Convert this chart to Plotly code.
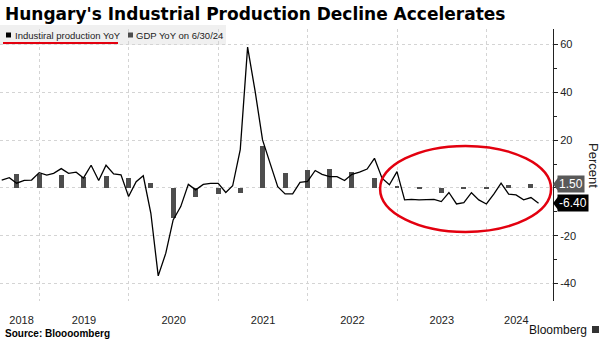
import plotly.graph_objects as go
import pandas as pd

# ---------------- data ----------------
ip_dates = pd.date_range("2018-07-31", periods=73, freq=pd.offsets.MonthEnd())
ip_yoy = [
    3.3, 4.3, 2.0, 3.2, 3.3, 6.4,                                   # 2018 Jul-Dec
    5.4, 6.1, 8.1, 6.1, 6.6, 4.2, 9.5, 3.1, 9.5, 5.9, 5.5, -3.6,    # 2019
    2.6, 5.1, -10.6, -36.8, -27.3, -13.4, -7.8, 1.5, -0.8, 1.5, 1.9, 1.9,  # 2020
    -1.9, 0.9, 16.0, 58.9, 40.3, 20.1, 10.3, 0.5, -2.5, -2.5, 2.3, 2.7,    # 2021
    7.3, 5.7, 4.7, 4.7, 3.1, 5.7, 6.6, 7.9, 12.4, 4.1, 1.3, 6.8,           # 2022
    -5.0, -4.8, -5.0, -4.8, -4.8, -5.7, -1.9, -6.7, -6.2, -2.0, -5.0, -6.7,  # 2023
    -2.5, 2.0, -2.6, -2.9, -5.0, -4.0, -6.4,                               # 2024
]
gdp_dates = pd.date_range("2018-09-30", periods=24, freq=pd.offsets.QuarterEnd())
gdp_yoy = [
    5.7, 5.7,
    5.4, 4.5, 5.0, 4.3,
    2.2, -12.7, -3.9, -2.6,
    -2.1, 17.7, 6.1, 7.5,
    7.8, 6.6, 4.3, 0.4,
    -0.6, -2.2, -0.4, -0.1,
    1.1, 1.5,
]
year_labels = ["2018", "2019", "2020", "2021", "2022", "2023", "2024"]
year_label_pos = ["2018-10-20", "2019-07-02", "2020-07-02", "2021-07-02",
                  "2022-07-02", "2023-07-02", "2024-05-01"]
y_tickvals = [-40, -20, 0, 20, 40, 60]
y_ticktext = ["-40", "-20", "", "20", "40", "60"]

title_text = "Hungary's Industrial Production Decline Accelerates"
legend_ip = "Industiral production YoY"
legend_gdp = "GDP YoY on 6/30/24"
source_text = "Source: Bloooomberg"

# ---------------- style ----------------
SMALL = "Liberation Sans, Arial, sans-serif"
TITLE_FONT = "DejaVu Sans, sans-serif"
GRID = "#d4d4d4"
BAR = "#4d4d4d"
W, H = 601, 339
ML, MR, MT, MB = 0, 48, 29, 38
PW, PH = W - ML - MR, H - MT - MB


def px(xp):
    return (xp - ML) / PW


def py(yp):
    return (H - MB - yp) / PH


fig = go.Figure()
fig.add_trace(go.Bar(x=gdp_dates, y=gdp_yoy, marker_color=BAR, marker_line_width=0,
                     width=[1.75e9] * len(gdp_yoy), name=legend_gdp))
fig.add_trace(go.Scatter(x=ip_dates, y=ip_yoy, mode="lines",
                         line=dict(color="#000000", width=1.3), name=legend_ip))

fig.update_layout(
    width=W, height=H, margin=dict(l=ML, r=MR, t=MT, b=MB),
    paper_bgcolor="white", plot_bgcolor="white", showlegend=False,
    font=dict(family=SMALL, color="#222222", size=11),
    bargap=0,
)
fig.update_xaxes(
    type="date", range=["2018-07-24", "2024-09-28"],
    tickmode="array", tickvals=year_label_pos, ticktext=year_labels,
    showgrid=False, ticks="", showline=False, zeroline=False,
    tickfont=dict(size=11, family=SMALL, color="#222"),
    ticklabelstandoff=11,
    minor=dict(dtick="M12", tick0="2019-01-01", showgrid=True,
               gridcolor=GRID, griddash="dot", gridwidth=1, ticks=""),
)
fig.update_yaxes(
    side="right", range=[-47.3, 66.5],
    tickmode="array", tickvals=y_tickvals, ticktext=y_ticktext,
    showgrid=True, gridcolor=GRID, griddash="dot", gridwidth=1,
    zeroline=False, showline=True, linecolor="#222", linewidth=1,
    ticks="outside", ticklen=4, tickcolor="#222",
    tickfont=dict(size=11, family=SMALL, color="#222"),
    minor=dict(dtick=10, tick0=0, ticks="outside", ticklen=3, tickcolor="#222", showgrid=False),
)

shapes = []
annos = []
# legend background
shapes.append(dict(type="rect", xref="paper", yref="paper", x0=px(0), x1=px(226),
                   y0=py(45), y1=py(25), fillcolor="#f0f0f0", line_width=0, layer="below"))
# legend squares
shapes.append(dict(type="rect", xref="paper", yref="paper", x0=px(6), x1=px(11),
                   y0=py(37.5), y1=py(32.5), fillcolor="#000", line_width=0))
shapes.append(dict(type="rect", xref="paper", yref="paper", x0=px(128), x1=px(133),
                   y0=py(37.5), y1=py(32.5), fillcolor=BAR, line_width=0))
annos.append(dict(text=legend_ip, xref="paper", yref="paper", x=px(12.5), y=py(35),
                  xanchor="left", yanchor="middle", showarrow=False,
                  font=dict(size=9.5, family=SMALL, color="#222")))
annos.append(dict(text=legend_gdp, xref="paper", yref="paper", x=px(133.5), y=py(35),
                  xanchor="left", yanchor="middle", showarrow=False,
                  font=dict(size=9.5, family=SMALL, color="#222")))
# red underline
shapes.append(dict(type="line", xref="paper", yref="paper", x0=px(3), x1=px(118),
                   y0=py(43), y1=py(43), line=dict(color="#e3000f", width=2)))
# red ellipse
shapes.append(dict(type="circle", xref="x", yref="y", x0="2022-10-23", x1="2024-09-20",
                   y0=-18.4, y1=17.6, line=dict(color="#e3000f", width=2.5)))
# title
annos.append(dict(text="<b>" + title_text + "</b>", xref="paper", yref="paper",
                  x=px(3), y=py(14), xanchor="left", yanchor="middle", showarrow=False,
                  font=dict(size=17, family=TITLE_FONT, color="#000")))
# last value labels
for val, col in [(gdp_yoy[-1], "#595959"), (ip_yoy[-1], "#000000")]:
    shapes.append(dict(type="path", xref="paper", yref="y", xsizemode="pixel", ysizemode="pixel",
                       xanchor=1, yanchor=val, path="M 0,0 L 5,6.5 L 5,-6.5 Z",
                       fillcolor=col, line_width=0))
    annos.append(dict(text=f"{val:.2f}", xref="paper", yref="y", x=1, y=val,
                      xanchor="left", yanchor="middle", xshift=4, showarrow=False,
                      bgcolor=col, borderpad=1,
                      font=dict(size=12, family=SMALL, color="white")))
# Percent
annos.append(dict(text="Percent", xref="paper", yref="paper", x=px(594), y=py(165),
                  textangle=90, showarrow=False, xanchor="center", yanchor="middle",
                  font=dict(size=13, family=SMALL, color="#222")))
# footer
annos.append(dict(text="<b>" + source_text + "</b>", xref="paper", yref="paper",
                  x=px(3), y=py(333), xanchor="left", yanchor="middle", showarrow=False,
                  font=dict(size=10, family=SMALL, color="#000")))
annos.append(dict(text="Bloomberg", xref="paper", yref="paper",
                  x=px(589), y=py(329.5), xanchor="right", yanchor="middle", showarrow=False,
                  font=dict(size=12, family=SMALL, color="#111")))
shapes.append(dict(type="rect", xref="paper", yref="paper", x0=px(592), x1=px(599),
                   y0=py(333), y1=py(326), fillcolor="#333", line_width=0))

fig.update_layout(shapes=shapes, annotations=annos)
fig.write_html("out.html")
